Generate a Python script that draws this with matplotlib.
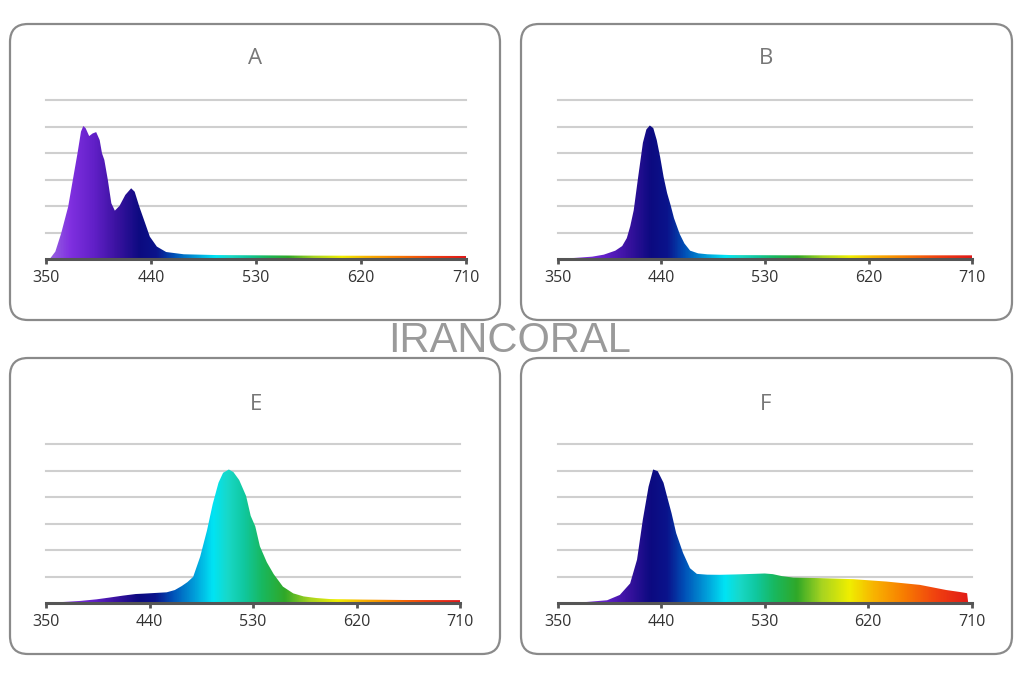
import matplotlib
matplotlib.use('Agg')
import matplotlib.pyplot as plt
import numpy as np
from matplotlib.colors import LinearSegmentedColormap
from matplotlib.patches import FancyBboxPatch, Polygon

# Dados (comprimento de onda em nm, intensidade relativa)
ticks = [350, 440, 530, 620, 710]
titles = ["A", "B", "E", "F"]

nm_a = [350, 353, 358, 363, 369, 373, 377, 380, 382, 384, 387, 390, 393, 396, 398, 400, 403, 406,
        409, 413, 418, 423, 426, 430, 435, 439, 445, 453, 468, 496, 568, 708, 710]
val_a = [0, 0, 5.8, 19.6, 39.7, 59.9, 80, 96.4, 100.6, 98.9, 93, 95, 96, 90, 80, 75, 59.9, 42.3,
         36.7, 40.3, 48.6, 53.6, 51, 39.7, 27.2, 17.1, 9.6, 5.5, 3.8, 3.2, 2.8, 2.5, 2.5]

nm_b = [350, 364, 380, 390, 400, 406, 410, 413, 416, 420, 424, 427, 430, 433, 436, 439, 442,
        445, 448, 451, 456, 460, 465, 472, 480, 500, 550, 650, 710]
val_b = [0.8, 1, 2, 3.5, 6.5, 10, 16, 25, 37, 63, 88, 98, 101, 99, 90, 77, 62,
         50, 41, 31, 19, 12, 6.5, 4.5, 3.8, 3.2, 3, 3, 3]

nm_e = [350, 365, 380, 394, 405, 417, 428, 435, 445, 455, 462, 468, 473, 478, 484, 490, 495, 500,
        504, 509, 513, 518, 524, 528, 532, 536, 542, 548, 556, 565, 574, 585, 597, 626, 660, 710]
val_e = [0.8, 1, 1.8, 3, 4.3, 5.8, 7, 7.3, 7.8, 8.3, 10, 13, 16, 20, 35, 55, 75, 91,
         98.5, 101, 99, 93, 81, 66, 58, 43, 31, 22, 12.6, 7.5, 5.2, 4, 3.2, 2.8, 2.5, 2.4]

nm_f = [350, 375, 393, 404, 413, 419, 424, 429, 433, 437, 442, 445, 449, 453, 459, 465, 471, 480,
        491, 505, 520, 530, 537, 545, 555, 578, 607, 636, 665, 688, 700, 706, 707]
val_f = [0.8, 1, 2.3, 6.3, 15, 33, 63, 88, 101, 99.7, 91, 81, 68, 53, 38, 26.5, 22.2, 21.6,
         21.5, 21.8, 22.2, 22.5, 22, 20.5, 19.4, 19, 18.2, 16.4, 13.9, 10, 8.5, 7.6, 0]

series = [(nm_a, val_a), (nm_b, val_b), (nm_e, val_e), (nm_f, val_f)]

# Paleta do espectro (posição em nm -> cor)
spec_nm = [350, 370, 390, 410, 430, 445, 460, 478, 495, 508, 522, 538, 558, 580, 604, 625, 650, 680, 710]
spec_col = ['#9a6ae0', '#8030e0', '#6220c8', '#3a12a0', '#0c0a80', '#0a148c', '#0052b8', '#009ad8',
            '#00e4f4', '#18d8c8', '#10c8a0', '#18b860', '#30a828', '#a8d420', '#f0ee00', '#f8b400',
            '#f88000', '#f04010', '#e01818']
cmap = LinearSegmentedColormap.from_list(
    'spec', [((n - 350) / 360.0, c) for n, c in zip(spec_nm, spec_col)])

W, H = 1024, 682
fig = plt.figure(figsize=(W / 100, H / 100), dpi=100, facecolor='white')

# Camada de fundo em pixels para as caixas arredondadas
bg = fig.add_axes([0, 0, 1, 1], zorder=0)
bg.set_xlim(0, W)
bg.set_ylim(H, 0)
bg.axis('off')
boxes = [(10, 24, 490, 296), (521, 24, 491, 296), (10, 358, 490, 296), (521, 358, 491, 296)]
for (x, y, w, h) in boxes:
    bg.add_patch(FancyBboxPatch((x, y), w, h, boxstyle="round,pad=0,rounding_size=18",
                                facecolor='white', edgecolor='#8a8a8a', linewidth=1.6))

# Posições dos eixos: (esquerda px, direita px, linha base px)
axpos = [(46, 466, 259.3), (557.7, 972.3, 259.3), (46, 460, 603.3), (557.7, 971.7, 603.3)]
title_pos = [(255, 58), (766, 58), (256, 404), (766, 404)]
top_h = 159.0

grad = np.linspace(350, 710, 720).reshape(1, -1)

for (nm, val), (l, r, base), title, (tx, ty) in zip(series, axpos, titles, title_pos):
    ax = fig.add_axes([l / W, 1 - base / H, (r - l) / W, top_h / H], zorder=1)
    ax.set_facecolor('none')
    ax.set_xlim(350, 710)
    ax.set_ylim(0, 120)

    poly = Polygon(np.column_stack([[nm[0]] + list(nm) + [nm[-1]], [0] + list(val) + [0]]),
                   closed=True, facecolor='none', edgecolor='none')
    ax.add_patch(poly)
    im = ax.imshow(grad, extent=[350, 710, 0, 120], aspect='auto', cmap=cmap,
                   vmin=350, vmax=710, origin='lower', zorder=2)
    im.set_clip_path(poly)

    ax.set_yticks([20, 40, 60, 80, 100, 120])
    ax.yaxis.grid(True, color='#cfcfcf', linewidth=1.5)
    ax.tick_params(axis='y', left=False, labelleft=False)
    ax.set_axisbelow(True)
    for gl in ax.get_ygridlines():
        gl.set_clip_on(False)

    for s in ['top', 'left', 'right']:
        ax.spines[s].set_visible(False)
    ax.spines['bottom'].set_color('#555555')
    ax.spines['bottom'].set_linewidth(2.2)
    ax.spines['bottom'].set_zorder(3)
    ax.set_xticks(ticks)
    ax.set_xticklabels([str(t) for t in ticks], fontfamily='Open Sans')
    ax.tick_params(axis='x', direction='out', length=3.5, width=2, color='#555555',
                   labelcolor='#333333', labelsize=11.5, pad=4)

    fig.text(tx / W, 1 - ty / H, title, ha='center', va='center', fontsize=16,
             color='#777777', fontfamily='Open Sans')

# Marca d'água
fig.text(510 / W, 1 - 341 / H, "IRANCORAL", ha='center', va='center', fontsize=30,
         color='#9a9a9a', fontfamily='Liberation Sans', zorder=10)

plt.savefig('out.png', dpi=100, facecolor='white')
plt.close()
